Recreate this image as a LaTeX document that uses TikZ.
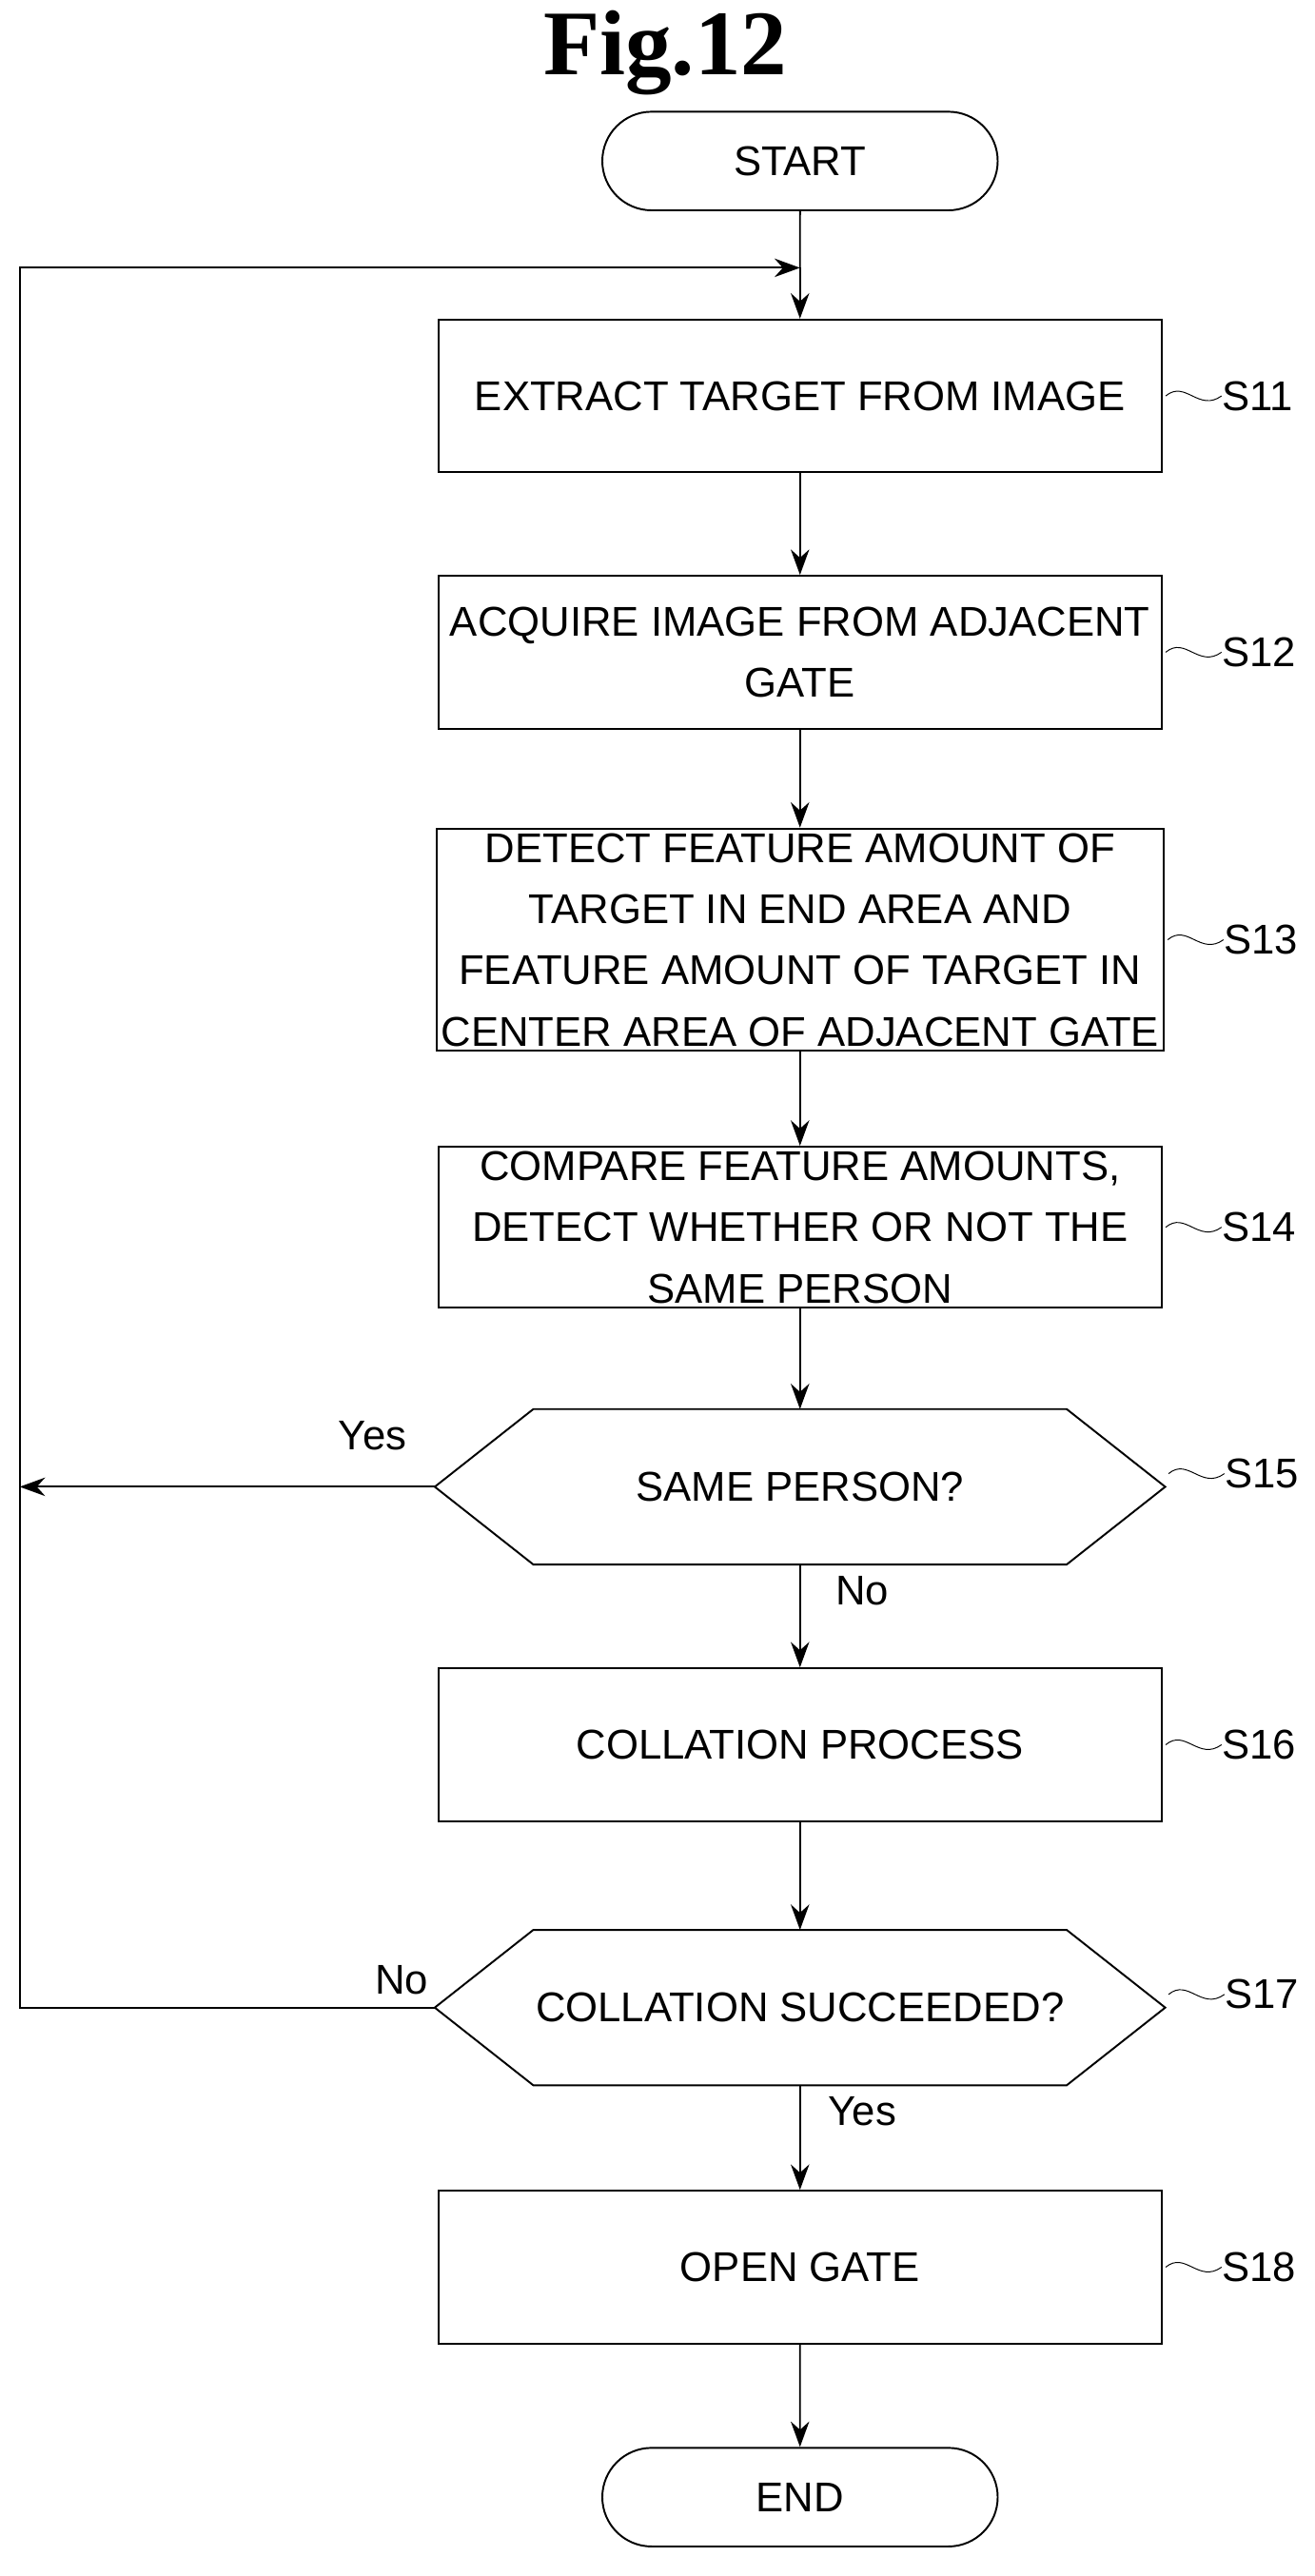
\documentclass[tikz,border=0pt]{standalone}
\usepackage{fontspec}
\setmainfont{Liberation Sans}
\newfontfamily\titlefont{Liberation Serif}
\usetikzlibrary{positioning, calc, arrows.meta, shapes.misc}

\begin{document}
\begin{tikzpicture}[x=0.025cm, y=-0.025cm,
    every node/.style={font=\fontsize{18}{26.5}\selectfont},
    proc/.style={draw, thick, rectangle, minimum width=11cm, minimum height=2.325cm, align=center, inner sep=2pt},
    term/.style={draw, thick, rounded rectangle, minimum width=6.25cm, minimum height=1.5cm},
    dec/.style={rectangle, minimum width=11.1cm, minimum height=2.35cm, align=center},
    flow/.style={thick, -{Stealth[length=11pt, width=8pt]}},
    steplabel/.style={anchor=west, inner sep=0pt}]

    \useasboundingbox (0,0) rectangle (800,1568);

    % title
    \node[font=\titlefont\bfseries\fontsize{40}{44}\selectfont] (title) at (405,32) {Fig.12};

    % the steps
    \node[term] (start) at (487,98) {START};
    \node[proc] (s11) at (487,241) {EXTRACT TARGET FROM IMAGE};
    \node[proc] (s12) at (487,397) {ACQUIRE IMAGE FROM ADJACENT\\GATE};
    \node[proc, minimum height=3.125cm] (s13) at (487,572) {DETECT FEATURE AMOUNT OF\\TARGET IN END AREA AND\\FEATURE AMOUNT OF TARGET IN\\CENTER AREA OF ADJACENT GATE};
    \node[proc, minimum height=2.375cm] (s14) at (487,747) {COMPARE FEATURE AMOUNTS,\\DETECT WHETHER OR NOT THE\\SAME PERSON};
    \node[dec] (s15) at (487,905) {SAME PERSON?};
    \node[proc] (s16) at (487,1062) {COLLATION PROCESS};
    \node[dec] (s17) at (487,1222) {COLLATION SUCCEEDED?};
    \node[proc] (s18) at (487,1380) {OPEN GATE};
    \node[term] (end) at (487,1520) {END};

    % hexagon outlines
    \foreach \d in {s15, s17}
        \draw[thick] (\d.west) -- ($(\d.north west)+(60,0)$) -- ($(\d.north east)+(-60,0)$)
            -- (\d.east) -- ($(\d.south east)+(-60,0)$) -- ($(\d.south west)+(60,0)$) -- cycle;

    % step labels
    \foreach \s/\n in {s11/S11, s12/S12, s13/S13, s14/S14, s16/S16, s18/S18} {
        \draw ($(\s.east)+(2,0)$) .. controls ($(\s.east)+(14,-10)$) and ($(\s.east)+(22,10)$) .. ($(\s.east)+(36,0)$)
            node[steplabel] (l\s) {\n};
    }
    \foreach \s/\n in {s15/S15, s17/S17} {
        \draw ($(\s.east)+(2,-8)$) .. controls ($(\s.east)+(14,-18)$) and ($(\s.east)+(22,2)$) .. ($(\s.east)+(36,-8)$)
            node[steplabel] (l\s) {\n};
    }

    % connectors
    \coordinate (join) at (487,163);
    \coordinate (left) at (12,163);
    \draw[thick] (start) -- (join);
    \draw[flow] (join) -- (s11);
    \draw[flow] (s11) -- (s12);
    \draw[flow] (s12) -- (s13);
    \draw[flow] (s13) -- (s14);
    \draw[flow] (s14) -- (s14 |- s15.north);
    \draw[flow] (s15.south -| s14) -- (s16);
    \draw[flow] (s16) -- (s16 |- s17.north);
    \draw[flow] (s17.south -| s16) -- (s18);
    \draw[flow] (s18) -- (end);
    \draw[flow] (s15.west) -- (left |- s15.west) node[pos=0.15, above=12pt] {Yes};
    \draw[flow] (s17.west) -- (left |- s17.west) node[pos=0.08, above=2pt] {No} -- (left) -- (join);
    \node (no15) at (525,968) {No};
    \node (yes17) at (525,1285) {Yes};
\end{tikzpicture}
\end{document}
